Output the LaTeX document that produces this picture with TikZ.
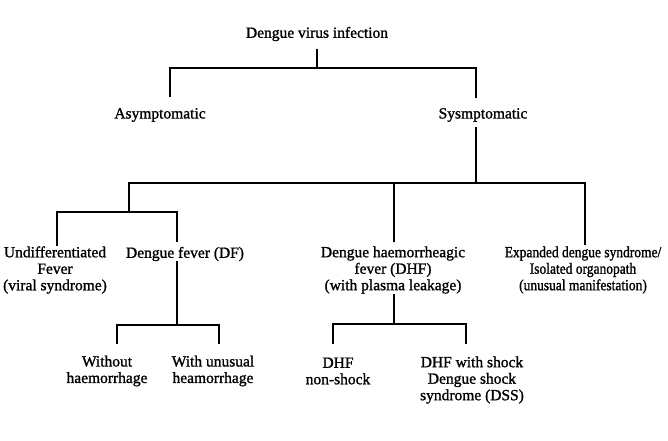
\documentclass[tikz,border=0pt]{standalone}
\usepackage{fontspec}
\setmainfont{Liberation Serif}[FakeBold=1.2]
\newfontfamily\narrowfont{Liberation Serif}[FakeBold=1.2,FakeStretch=0.87]
\begin{document}
\begin{tikzpicture}[x=1pt,y=-1pt,
  conn/.style={line width=1.8pt, line cap=rect, line join=miter},
  txt/.style={align=center, inner sep=0pt, font=\fontsize{15.5}{16.5}\selectfont}]
\useasboundingbox[fill=white] (0,0) rectangle (668,440);
% nodes
\node[txt] (root) at (317,34) {Dengue virus infection};
\node[txt] (asy) at (160,115) {Asymptomatic};
\node[txt] (sym) at (483,115) {Sysmptomatic};
\node[txt] (und) at (55,270) {Undifferentiated\\Fever\\(viral syndrome)};
\node[txt] (df) at (185,254) {Dengue fever (DF)};
\node[txt] (dhf) at (393,270) {Dengue haemorrheagic\\fever (DHF)\\(with plasma leakage)};
\node[txt, font=\fontsize{15.5}{16.5}\narrowfont] (exp) at (583,270) {Expanded dengue syndrome/\\Isolated organopath\\(unusual manifestation)};
\node[txt] (wo) at (107,371) {Without\\haemorrhage};
\node[txt] (wu) at (213,371) {With unusual\\heamorrhage};
\node[txt] (dns) at (338,371) {DHF\\non-shock};
\node[txt] (dss) at (472,380) {DHF with shock\\Dengue shock\\syndrome (DSS)};
% coordinates
\coordinate (rootB) at (317,50);
\coordinate (j1) at (317,68);
\coordinate (asyT) at (170,96);
\coordinate (symT) at (476,97);
\coordinate (symB) at (476,128);
\coordinate (j2) at (476,183);
\coordinate (j3) at (129,183);
\coordinate (j4) at (129,212);
\coordinate (undT) at (57,245);
\coordinate (dfT) at (177,241);
\coordinate (dhfT) at (394,241);
\coordinate (expT) at (585,244);
\coordinate (dfB) at (177,262);
\coordinate (j5) at (177,325);
\coordinate (woT) at (117,343);
\coordinate (wuT) at (219,343);
\coordinate (dhfB) at (394,295);
\coordinate (j6) at (394,324);
\coordinate (dnsT) at (333,343);
\coordinate (dssT) at (466,343);
% connectors
\draw[conn] (rootB) -- (j1);
\draw[conn] (asyT) |- (j1) -| (symT);
\draw[conn] (symB) -- (j2);
\draw[conn] (j3) -- (j4);
\draw[conn] (j3) -| (expT);
\draw[conn] (dhfT) -- (dhfT |- j2);
\draw[conn] (undT) |- (j4) -| (dfT);
\draw[conn] (dfB) -- (j5);
\draw[conn] (woT) |- (j5) -| (wuT);
\draw[conn] (dhfB) -- (j6);
\draw[conn] (dnsT) |- (j6) -| (dssT);
\end{tikzpicture}
\end{document}
